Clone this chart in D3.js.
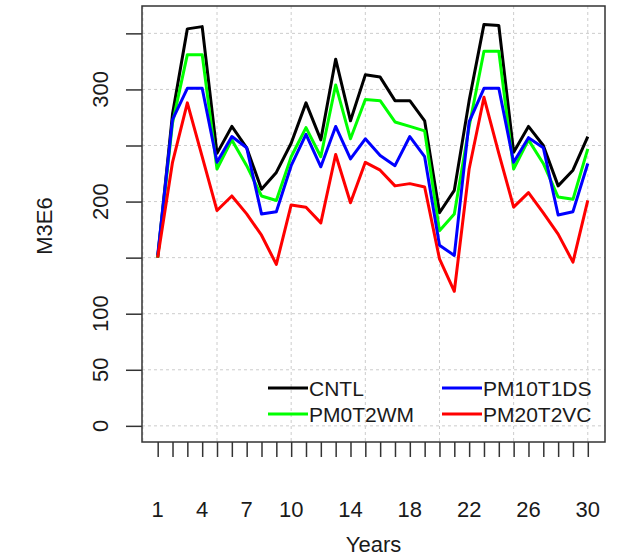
<!DOCTYPE html>
<html>
<head>
<meta charset="utf-8">
<script src="https://cdn.jsdelivr.net/npm/d3@7"></script>
<style>
  body { margin: 0; background: #fff; }
  text { font-family: "Liberation Sans", Arial, sans-serif; fill: #1a1a1a; }
</style>
</head>
<body>
<div id="chart"></div>
<script>
var svgWidth = 623;
var svgHeight = 556;

// data
var years = d3.range(1, 31);
var seriesNames = ["CNTL", "PM0T2WM", "PM10T1DS", "PM20T2VC"];
var seriesColors = ["#000000", "#00ff00", "#0000ff", "#ff0000"];
var cntl = [150, 278, 354, 356, 243, 267, 248, 211, 226, 252, 288, 255, 327, 272, 313,
  311, 290, 290, 272, 190, 210, 290, 358, 357, 244, 267, 250, 214, 228, 258];
var pm0t2wm = [150, 270, 331, 331, 229, 255, 232, 205, 201, 240, 266, 240, 304, 256, 291,
  290, 271, 267, 263, 174, 189, 267, 334, 334, 229, 255, 234, 204, 202, 247];
var pm10t1ds = [152, 273, 301, 301, 235, 258, 248, 189, 191, 232, 260, 231, 267, 238, 256,
  241, 232, 258, 240, 161, 152, 271, 301, 301, 235, 257, 248, 188, 191, 234];
var pm20t2vc = [150, 235, 288, 240, 192, 205, 189, 170, 144, 197, 195, 181, 242, 199, 235,
  228, 214, 216, 213, 149, 120, 229, 293, 243, 195, 208, 190, 171, 146, 201];
var allSeries = [cntl, pm0t2wm, pm10t1ds, pm20t2vc];

var yTicks = d3.range(0, 351, 50);
var yTickLabels = [0, 50, 100, 200, 300];
var xTickLabels = [1, 4, 7, 10, 14, 18, 22, 26, 30];
var gridYears = d3.range(0, 31, 5);

// plot region
var box = { left: 142, right: 605, top: 6, bottom: 442 };

var svg = d3.select("#chart")
  .append("svg")
  .attr("width", svgWidth)
  .attr("height", svgHeight);

var xScale = d3.scaleLinear()
  .domain([0, 31.16])
  .range([142.85, box.right]);

var yScale = d3.scaleLinear()
  .domain([-14.4, 374.4])
  .range([box.bottom, box.top]);

// grid
svg.append("g")
  .selectAll("line")
  .data(yTicks)
  .enter()
  .append("line")
  .attr("x1", box.left)
  .attr("x2", box.right)
  .attr("y1", d => yScale(d))
  .attr("y2", d => yScale(d))
  .attr("stroke", "#cccccc")
  .attr("stroke-dasharray", "3,3");

svg.append("g")
  .selectAll("line")
  .data(gridYears)
  .enter()
  .append("line")
  .attr("x1", d => xScale(d))
  .attr("x2", d => xScale(d))
  .attr("y1", box.top)
  .attr("y2", box.bottom)
  .attr("stroke", "#cccccc")
  .attr("stroke-dasharray", "3,3");

// lines
var line = d3.line()
  .x((d, i) => xScale(years[i]))
  .y(d => yScale(d));

svg.append("g")
  .selectAll("path")
  .data(allSeries)
  .enter()
  .append("path")
  .attr("d", d => line(d))
  .attr("fill", "none")
  .attr("stroke", (d, i) => seriesColors[i])
  .attr("stroke-width", 3)
  .attr("stroke-linejoin", "round");

// box
svg.append("rect")
  .attr("x", box.left)
  .attr("y", box.top)
  .attr("width", box.right - box.left)
  .attr("height", box.bottom - box.top)
  .attr("fill", "none")
  .attr("stroke", "#333")
  .attr("stroke-width", 1.5);

// y axis
var leftAxis = d3.axisLeft(yScale)
  .tickValues(yTicks)
  .tickSize(16)
  .tickFormat("");

var yAxis = svg.append("g")
  .attr("transform", `translate(${box.left}, 0)`)
  .call(leftAxis);
yAxis.select(".domain").remove();
yAxis.selectAll(".tick line").attr("stroke", "#333").attr("stroke-width", 1.5);

svg.append("g")
  .selectAll("text")
  .data(yTickLabels)
  .enter()
  .append("text")
  .attr("transform", d => `translate(108, ${yScale(d)}) rotate(-90)`)
  .attr("text-anchor", "middle")
  .attr("font-size", "22px")
  .text(d => d);

// x axis
var bottomAxis = d3.axisBottom(xScale)
  .tickValues(years)
  .tickSize(15)
  .tickFormat("");

var xAxis = svg.append("g")
  .attr("transform", `translate(0, ${box.bottom})`)
  .call(bottomAxis);
xAxis.select(".domain").remove();
xAxis.selectAll(".tick line").attr("stroke", "#333").attr("stroke-width", 1.5);

svg.append("g")
  .selectAll("text")
  .data(xTickLabels)
  .enter()
  .append("text")
  .attr("x", d => xScale(d))
  .attr("y", 517)
  .attr("text-anchor", "middle")
  .attr("font-size", "22px")
  .text(d => d);

// axis titles
svg.append("text")
  .attr("x", (box.left + box.right) / 2)
  .attr("y", 552)
  .attr("text-anchor", "middle")
  .attr("font-size", "22px")
  .text("Years");

svg.append("text")
  .attr("transform", `translate(52, ${(box.top + box.bottom) / 2 + 2}) rotate(-90)`)
  .attr("text-anchor", "middle")
  .attr("font-size", "22px")
  .text("M3E6");

// legend
var legendPos = [[268, 388], [268, 414], [442, 388], [442, 414]];

var legend = svg.append("g")
  .selectAll("g")
  .data(seriesNames)
  .enter()
  .append("g")
  .attr("transform", (d, i) => `translate(${legendPos[i][0]}, ${legendPos[i][1]})`);

legend.append("line")
  .attr("x1", 0)
  .attr("x2", 40)
  .attr("stroke", (d, i) => seriesColors[i])
  .attr("stroke-width", 3);

legend.append("text")
  .attr("x", 41)
  .attr("y", 7.5)
  .attr("font-size", "21px")
  .text(d => d);
</script>
</body>
</html>
